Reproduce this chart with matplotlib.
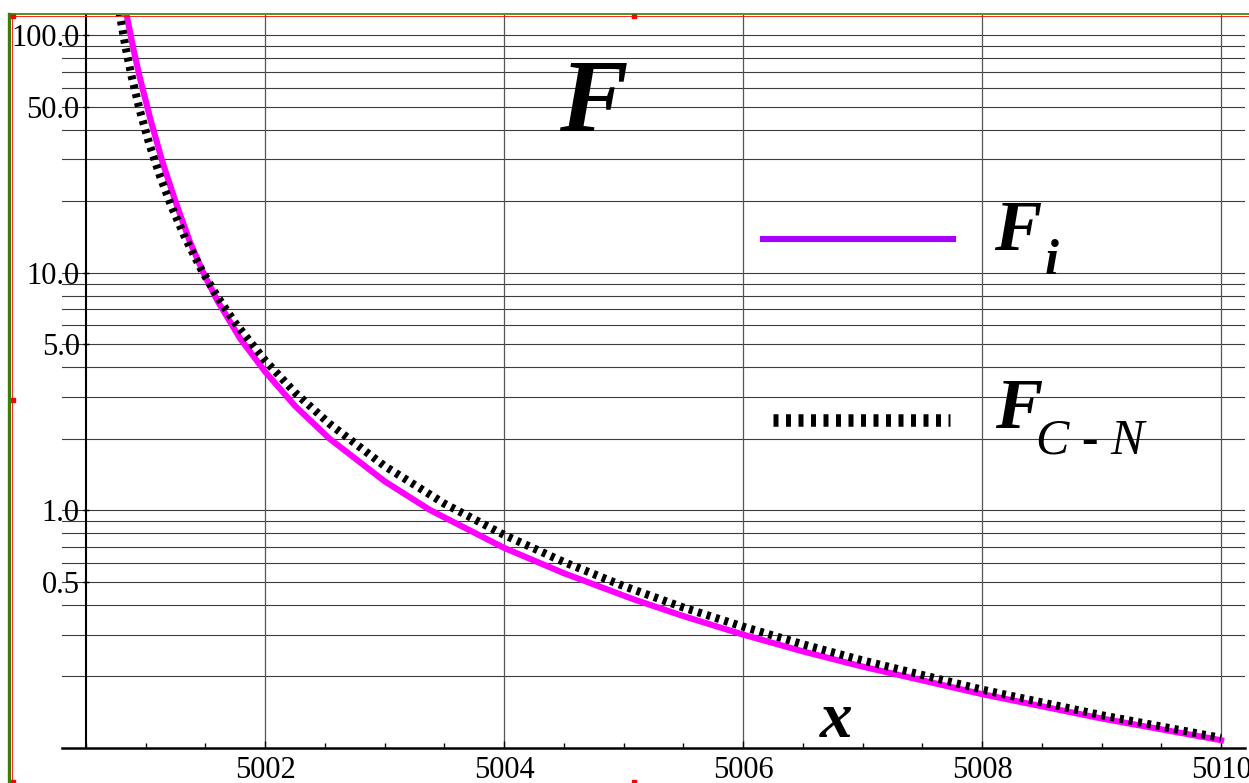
import matplotlib
matplotlib.use('Agg')
import matplotlib.pyplot as plt
from matplotlib.lines import Line2D
from matplotlib.patches import Rectangle
from matplotlib.ticker import MultipleLocator, NullLocator

plt.rcParams['font.family'] = ['Liberation Serif', 'DejaVu Serif']

# values (x, F)
x_fi = [5000.84, 5000.90, 5000.95, 5001.04, 5001.14, 5001.25, 5001.37, 5001.48,
        5001.60, 5001.79, 5002.0, 5002.25, 5002.54, 5003.0, 5003.38, 5004.0,
        5004.5, 5005.08, 5005.5, 5006.0, 5006.5, 5007.0, 5008.0, 5009.0, 5010.0]
F_i = [122.2, 86.3, 66.6, 44.2, 29.3, 19.9, 13.5, 10.06,
       7.63, 5.29, 3.83, 2.75, 2.0, 1.325, 1.003, 0.695,
       0.544, 0.423, 0.359, 0.300, 0.255, 0.220, 0.1685, 0.1331, 0.1078]

x_cn = [5000.78, 5000.83, 5000.88, 5000.95, 5001.03, 5001.12, 5001.21, 5001.33,
        5001.47, 5001.60, 5001.75, 5002.0, 5002.25, 5002.54, 5003.0, 5003.5,
        5004.0, 5004.5, 5005.0, 5005.5, 5006.0, 5006.5, 5007.0, 5008.0, 5009.0, 5010.0]
F_cn = [125.0, 90.0, 67.9, 48.4, 34.9, 25.5, 19.34, 14.05,
        10.22, 7.93, 6.14, 4.27, 3.13, 2.31, 1.536, 1.067,
        0.788, 0.606, 0.480, 0.390, 0.324, 0.273, 0.2336, 0.176, 0.1374, 0.1103]

y_ticks = [0.5, 1.0, 5.0, 10.0, 50.0, 100.0]
y_labels = ['0.5', '1.0', '5.0', '10.0', '50.0', '100.0']
x_ticks = [5002, 5004, 5006, 5008, 5010]
x_labels = ['5002', '5004', '5006', '5008', '5010']
grid_y = [0.2, 0.3, 0.4, 0.5, 0.6, 0.7, 0.8, 0.9,
          1, 2, 3, 4, 5, 6, 7, 8, 9,
          10, 20, 30, 40, 50, 60, 70, 80, 90, 100]

W, H = 1249, 783
fig = plt.figure(figsize=(W / 100, H / 100), dpi=100)


def fx(px):
    return px / W


def fy(py):
    return 1 - py / H


ax = fig.add_axes([fx(62), fy(748), fx(1245) - fx(62), fy(15) - fy(748)])
ax.set_yscale('log')
ax.set_xlim(5000.30, 5010.20)
ax.set_ylim(0.1, 121.4)

for v in grid_y:
    ax.axhline(v, color='#3c3c3c', lw=0.8, zorder=1)
for v in x_ticks:
    ax.axvline(v, color='#555555', lw=0.9, zorder=1)

ax.plot(x_fi, F_i, color='#ff00ff', lw=4.4, zorder=3)
ax.plot(x_cn, F_cn, color='black', lw=5.8, linestyle=(0, (0.5, 0.65)),
        dash_capstyle='butt', zorder=4)

for s in ['top', 'right']:
    ax.spines[s].set_visible(False)
ax.spines['left'].set_position(('data', 5000.5))
ax.spines['left'].set_linewidth(1.5)
ax.spines['bottom'].set_linewidth(1.8)

ax.set_yticks(y_ticks)
ax.set_yticklabels(y_labels)
ax.yaxis.set_minor_locator(NullLocator())
ax.tick_params(axis='y', direction='inout', length=5, width=1, pad=2, labelsize=22)
ax.set_xticks(x_ticks)
ax.set_xticklabels(x_labels)
ax.xaxis.set_minor_locator(MultipleLocator(0.5))
ax.tick_params(axis='x', which='major', direction='in', length=5, width=1, pad=6, labelsize=22)
ax.tick_params(axis='x', which='minor', direction='in', length=3.5, width=1)

# titles and legend written into the plot
fig.text(fx(559), fy(131), 'F', fontsize=74, fontweight='bold', fontstyle='italic')
fig.text(fx(994), fy(250), 'F', fontsize=51, fontweight='bold', fontstyle='italic')
fig.text(fx(1045), fy(274), 'i', fontsize=36, fontweight='bold', fontstyle='italic')
fig.text(fx(995), fy(428), 'F', fontsize=51, fontweight='bold', fontstyle='italic')
fig.text(fx(1036), fy(453), 'C - N', fontsize=36, fontstyle='italic')
fig.text(fx(820), fy(737), 'x', fontsize=47, fontweight='bold', fontstyle='italic')

fig.add_artist(Line2D([fx(763), fx(953)], [fy(239), fy(239)], color='#a800ff', lw=4.4,
                      transform=fig.transFigure))
fig.add_artist(Line2D([fx(773), fx(950)], [fy(420), fy(420)], color='black', lw=9,
                      linestyle=(0, (0.4, 0.6)), dash_capstyle='butt',
                      transform=fig.transFigure))

# selection frame left around the picture
fig.add_artist(Line2D([fx(9), fx(9)], [fy(14), 0], color='#3a7d00', lw=2.4,
                      transform=fig.transFigure))
fig.add_artist(Line2D([fx(11.5), fx(11.5)], [fy(16), 0], color='red', lw=0.6,
                      transform=fig.transFigure))
fig.add_artist(Line2D([fx(9), 1], [fy(14), fy(14)], color='#3a7d00', lw=1.2,
                      transform=fig.transFigure))
fig.add_artist(Line2D([fx(10), 1], [fy(15.5), fy(15.5)], color='red', lw=0.6,
                      transform=fig.transFigure))
for hx, hy in [(11, 14), (632, 14), (11, 398), (11, 780), (632, 780)]:
    fig.add_artist(Rectangle((fx(hx), fy(hy + 4)), 4 / W, 4 / H, color='red',
                             transform=fig.transFigure))

fig.savefig('out.png', dpi=100)
